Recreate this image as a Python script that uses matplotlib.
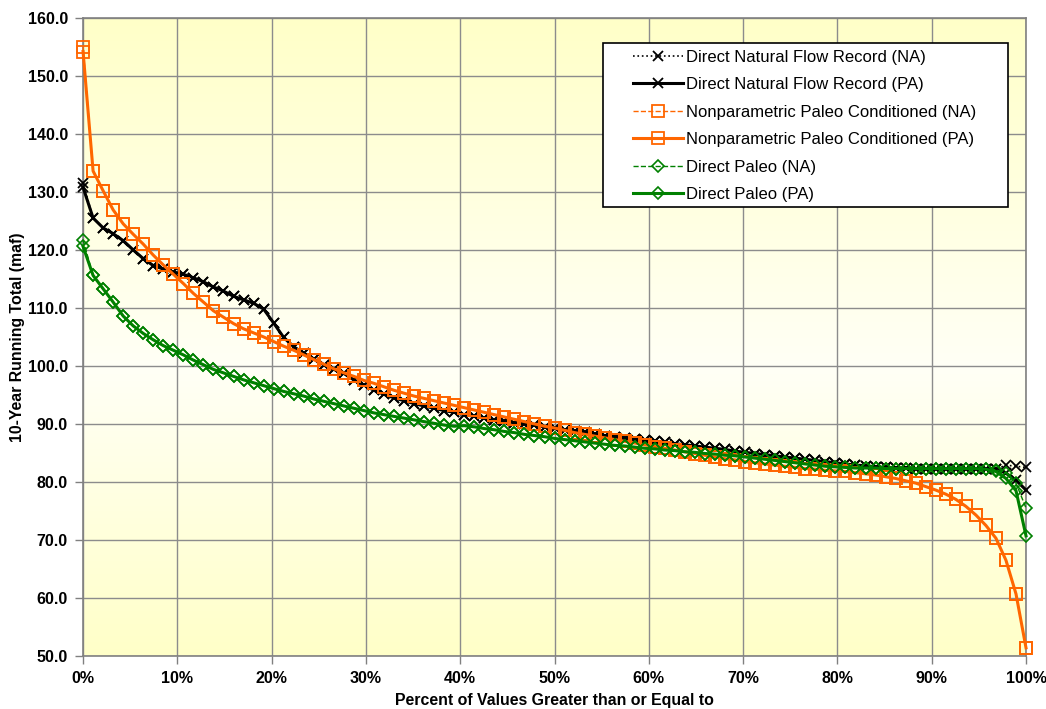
import matplotlib
matplotlib.use("Agg")
import matplotlib.pyplot as plt
import numpy as np
from matplotlib.colors import LinearSegmentedColormap
from matplotlib.patches import Rectangle

plt.rcParams['font.family'] = ['Liberation Sans', 'DejaVu Sans']

# 10-year running totals (maf), sorted high to low
nfr_pa = [130.8, 125.5, 123.8, 122.8, 121.6, 120.0, 118.5, 117.3, 116.7, 116.2,
          115.8, 115.2, 114.5, 113.6, 112.9, 112.0, 111.4, 110.8, 109.8, 107.4,
          104.9, 103.3, 102.2, 101.2, 100.2, 99.4, 98.7, 97.6, 96.7, 95.8,
          95.1, 94.5, 94.0, 93.5, 93.1, 92.7, 92.3, 92.0, 91.6, 91.3,
          91.0, 90.7, 90.5, 90.2, 90.0, 89.8, 89.5, 89.3, 89.0, 88.8,
          88.6, 88.3, 88.0, 87.8, 87.6, 87.4, 87.2, 87.0, 86.8, 86.6,
          86.4, 86.2, 86.0, 85.8, 85.6, 85.3, 85.1, 84.9, 84.7, 84.5,
          84.3, 84.1, 83.9, 83.7, 83.5, 83.3, 83.1, 82.9, 82.8, 82.6,
          82.5, 82.4, 82.4, 82.3, 82.3, 82.3, 82.3, 82.3, 82.3, 82.3,
          82.3, 82.2, 81.5, 80.3, 78.6]
nfr_na = [131.5] + nfr_pa[1:-3] + [82.9, 82.7, 82.5]

npc_pa = [154.2, 133.6, 130.2, 126.9, 124.5, 122.7, 121.0, 119.1, 117.4, 115.8,
          114.2, 112.5, 111.0, 109.5, 108.4, 107.3, 106.4, 105.7, 105.0, 104.2,
          103.4, 102.7, 101.9, 101.1, 100.3, 99.5, 98.8, 98.2, 97.5, 97.0,
          96.4, 95.8, 95.3, 94.8, 94.4, 94.0, 93.6, 93.2, 92.8, 92.4,
          92.0, 91.6, 91.2, 90.8, 90.4, 90.0, 89.6, 89.3, 88.9, 88.5,
          88.2, 87.9, 87.6, 87.3, 87.0, 86.7, 86.4, 86.1, 85.8, 85.5,
          85.2, 84.9, 84.6, 84.3, 84.0, 83.8, 83.5, 83.3, 83.1, 82.9,
          82.7, 82.5, 82.3, 82.2, 82.0, 81.9, 81.8, 81.6, 81.4, 81.2,
          80.9, 80.6, 80.2, 79.8, 79.2, 78.6, 77.9, 77.0, 75.8, 74.3,
          72.5, 70.3, 66.5, 60.7, 51.4]
npc_na = [155.0] + npc_pa[1:]

dp_pa = [120.6, 115.6, 113.3, 111.0, 108.6, 106.9, 105.6, 104.5, 103.5, 102.7,
         101.9, 101.0, 100.2, 99.4, 98.8, 98.2, 97.6, 97.1, 96.6, 96.1,
         95.6, 95.2, 94.8, 94.3, 93.9, 93.5, 93.1, 92.7, 92.3, 91.9,
         91.6, 91.3, 91.0, 90.7, 90.4, 90.1, 89.8, 89.6, 89.7, 89.5,
         89.2, 89.0, 88.7, 88.5, 88.2, 88.0, 87.8, 87.5, 87.3, 87.1,
         86.9, 86.7, 86.5, 86.3, 86.2, 86.0, 85.8, 85.7, 85.5, 85.4,
         85.2, 85.1, 84.9, 84.8, 84.6, 84.5, 84.3, 84.1, 83.9, 83.7,
         83.5, 83.3, 83.1, 82.9, 82.7, 82.6, 82.5, 82.4, 82.4, 82.4,
         82.3, 82.3, 82.3, 82.3, 82.3, 82.3, 82.3, 82.3, 82.3, 82.3,
         82.2, 81.8, 80.6, 78.5, 70.7]
dp_na = [121.7] + dp_pa[1:-4] + [82.1, 81.5, 79.8, 75.5]

pct = np.linspace(0, 100, len(nfr_pa))

fig = plt.figure(figsize=(10.46, 7.09), dpi=100)
ax = fig.add_axes([0.0794, 0.0748, 0.9015, 0.900])

# yellow-white-yellow background
cmap = LinearSegmentedColormap.from_list(
    'bg', [(0.0, '#ffffc8'), (0.45, '#fffff6'), (1.0, '#ffffc8')])
grad = np.linspace(0, 1, 256).reshape(-1, 1)
ax.imshow(grad, cmap=cmap, aspect='auto', extent=[0, 100, 50, 160],
          origin='lower', zorder=0)

ax.plot(pct, nfr_na, color='black', ls=':', lw=1.2, marker='x', ms=7.5, mew=1.3,
        label='Direct Natural Flow Record (NA)', clip_on=False, zorder=3)
ax.plot(pct, nfr_pa, color='black', ls='-', lw=2.2, marker='x', ms=7.5, mew=1.3,
        label='Direct Natural Flow Record (PA)', clip_on=False, zorder=3)
ax.plot(pct, npc_na, color='#ff6600', ls='--', lw=1.0, marker='s', ms=8, mew=1.3,
        mfc='none', label='Nonparametric Paleo Conditioned (NA)', clip_on=False, zorder=3)
ax.plot(pct, npc_pa, color='#ff6600', ls='-', lw=2.2, marker='s', ms=8, mew=1.3,
        mfc='none', label='Nonparametric Paleo Conditioned (PA)', clip_on=False, zorder=3)
ax.plot(pct, dp_na, color='#008000', ls='--', lw=1.0, marker='D', ms=6, mew=1.2,
        mfc='none', label='Direct Paleo (NA)', clip_on=False, zorder=3)
ax.plot(pct, dp_pa, color='#008000', ls='-', lw=2.2, marker='D', ms=6, mew=1.2,
        mfc='none', label='Direct Paleo (PA)', clip_on=False, zorder=3)

ax.set_xlim(0, 100)
ax.set_ylim(50, 160)
ax.set_xticks(np.arange(0, 101, 10))
ax.set_xticklabels([f'{v}%' for v in range(0, 101, 10)])
ax.set_yticks(np.arange(50, 161, 10))
ax.set_yticklabels([f'{v:.1f}' for v in range(50, 161, 10)])
for lbl in ax.get_xticklabels() + ax.get_yticklabels():
    lbl.set_fontweight('bold')
    lbl.set_fontsize(11.5)
ax.tick_params(direction='out', length=6, color='#808080', width=1, pad=5)
ax.grid(True, color='#8c8c8c', lw=1)
ax.set_axisbelow(True)
for s in ax.spines.values():
    s.set_color('#808080')
    s.set_linewidth(1.2)

ax.set_xlabel('Percent of Values Greater than or Equal to', fontsize=11.4,
              fontweight='bold', labelpad=5)
ax.set_ylabel('10-Year Running Total (maf)', fontsize=11.4, fontweight='bold',
              labelpad=2)

# legend box
ax.add_patch(Rectangle((0.551, 0.704), 0.4295, 0.257, transform=ax.transAxes,
                       facecolor='white', edgecolor='black', lw=1.2,
                       zorder=4, clip_on=False))
leg = ax.legend(loc='upper left', bbox_to_anchor=(0.5686, 0.971), frameon=False,
                fontsize=12, handlelength=3.05, handletextpad=0.18,
                labelspacing=0.75, borderpad=0.3)
leg.set_zorder(5)

fig.savefig('out.png', dpi=100)
